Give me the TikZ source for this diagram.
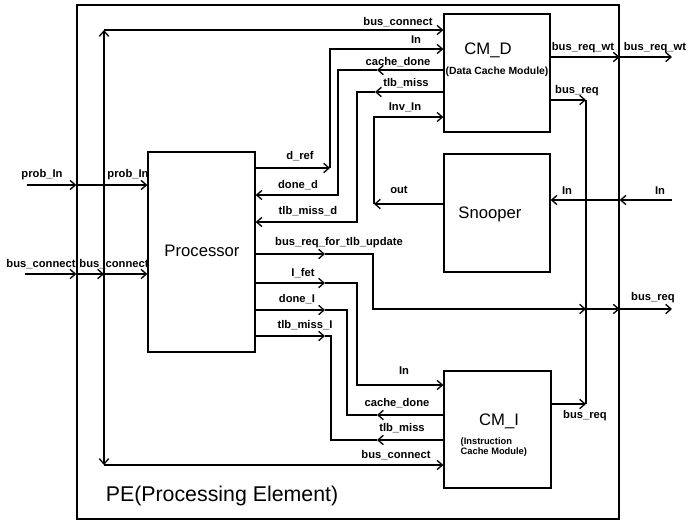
\documentclass[tikz,border=0pt]{standalone}
\usepackage{fontspec}
\setmainfont{Liberation Sans}
\usetikzlibrary{arrows.meta,fit}
\begin{document}
\begin{tikzpicture}[x=0.75pt,y=-0.75pt,line width=1pt,
  >={Straight Barb[length=4pt,width=7pt]},
  box/.style={draw,inner sep=0pt},
  lbl/.style={font=\fontsize{8.4}{9}\selectfont\bfseries,inner sep=0pt},
  ttl/.style={font=\fontsize{12.5}{14}\selectfont,inner sep=0pt},
  sub/.style={font=\fontsize{7}{7}\selectfont\bfseries,inner sep=0pt,align=left}]
\useasboundingbox (0,0) rectangle (690,521);
% boxes
\path (77,5) coordinate (pe1) (619,519) coordinate (pe2);
\node[box,fit=(pe1)(pe2)] (PE) {};
\path (148,152) coordinate (p1) (255,352) coordinate (p2);
\node[box,fit=(p1)(p2)] (P) {};
\path (444,14) coordinate (d1) (550,132) coordinate (d2);
\node[box,fit=(d1)(d2)] (D) {};
\path (444,154) coordinate (s1) (550,272) coordinate (s2);
\node[box,fit=(s1)(s2)] (S) {};
\path (444,371) coordinate (i1) (551,488) coordinate (i2);
\node[box,fit=(i1)(i2)] (I) {};
% titles
\node[ttl] (tP) at (202,251) {Processor};
\node[ttl] (tD) at (488,50) {CM\_D};
\node[sub,font=\fontsize{7.8}{8}\selectfont\bfseries] (tD2) at (497,72) {(Data Cache Module)};
\node[ttl] (tS) at (490,214) {Snooper};
\node[ttl] (tI) at (499,421) {CM\_I};
\node[sub,anchor=west] (tI2) at (460,447) {(Instruction\\Cache Module)};
\node[font=\fontsize{16}{18}\selectfont,inner sep=0pt] (tPE) at (222,496) {PE(Processing Element)};
% prob_in
\coordinate (pin) at (27,185);
\draw[->] (pin) -- (PE.west |- pin);
\draw[->] (PE.west |- pin) -- (P.west |- pin);
% bus_connect
\coordinate (bcin) at (25,274);
\coordinate (bj) at (104,274);
\coordinate (bt) at (104,30);
\coordinate (bb) at (104,465);
\draw[->] (bcin) -- (PE.west |- bcin);
\draw[->] (PE.west |- bcin) -- (bj);
\draw[->] (bj) -- (P.west |- bj);
\draw[->] (bj) -- (bt);
\draw[->] (bt) -- (D.west |- bt);
\draw[->] (bj) -- (bb);
\draw[->] (bb) -- (I.west |- bb);
% d_ref / in
\coordinate (dr) at (330,168);
\coordinate (dr2) at (444,49);
\draw[->] (P.east |- dr) -- (dr);
\draw[->] (dr) |- (D.west |- dr2);
% cache_done / done_d
\coordinate (cd1) at (377,70);
\coordinate (cd2) at (338,195);
\draw[->] (D.west |- cd1) -- (cd1);
\draw[->] (cd1) -| (cd2) -- (P.east |- cd2);
% tlb_miss / tlb_miss_d
\coordinate (tm1) at (375,92);
\coordinate (tm2) at (357,222);
\draw[->] (D.west |- tm1) -- (tm1);
\draw[->] (tm1) -| (tm2) -- (P.east |- tm2);
% out / inv_in
\coordinate (o1) at (374,204);
\coordinate (o2) at (374,117);
\draw[->] (S.west |- o1) -- (o1);
\draw[->] (o1) -- (o2) -- (D.west |- o2);
% bus_req_for_tlb_update
\coordinate (bu1) at (325,254);
\coordinate (bu2) at (373,309);
\coordinate (bjr) at (586,309);
\coordinate (brout) at (672,309);
\draw[->] (P.east |- bu1) -- (bu1);
\draw[->] (bu1) -| (bu2) -- (bjr);
\draw[->] (bjr) -- (PE.east |- bjr);
\draw[->] (PE.east |- bjr) -- (brout);
% I_fet / in
\coordinate (if1) at (325,283);
\coordinate (if2) at (357,385);
\draw[->] (P.east |- if1) -- (if1);
\draw[->] (if1) -| (if2) -- (I.west |- if2);
% cache_done / done_I
\coordinate (di1) at (377,415);
\coordinate (di2) at (347,310);
\coordinate (di3) at (325,310);
\draw[->] (I.west |- di1) -- (di1);
\draw (di1) -| (di2) -- (di3);
\draw[->] (P.east |- di3) -- (di3);
% tlb_miss / tlb_miss_I
\coordinate (ti1) at (377,440);
\coordinate (ti2) at (331,336);
\coordinate (ti3) at (325,336);
\draw[->] (I.west |- ti1) -- (ti1);
\draw (ti1) -| (ti2) -- (ti3);
\draw[->] (P.east |- ti3) -- (ti3);
% bus_req_wt
\coordinate (wt) at (672,57);
\draw[->] (D.east |- wt) -- (PE.east |- wt);
\draw[->] (PE.east |- wt) -- (wt);
% bus_req
\coordinate (rq1) at (586,100);
\coordinate (rq2) at (586,404);
\draw[->] (D.east |- rq1) -- (rq1);
\draw (rq1) -- (rq2);
\draw[->] (I.east |- rq2) -- (rq2);
% snooper in
\coordinate (sin) at (672,200);
\draw[->] (sin) -- (PE.east |- sin);
\draw[->] (PE.east |- sin) -- (S.east |- sin);
% labels
\node[lbl] at (42,175) {prob\_In};
\node[lbl] at (128,175) {prob\_In};
\node[lbl] at (41,264) {bus\_connect};
\node[lbl] at (114,264) {bus\_connect};
\node[lbl] at (398,22) {bus\_connect};
\node[lbl] at (416,40) {In};
\node[lbl] at (398,62) {cache\_done};
\node[lbl] at (406,83) {tlb\_miss};
\node[lbl] at (405,107) {Inv\_In};
\node[lbl] at (399,190) {out};
\node[lbl] at (300,156) {d\_ref};
\node[lbl] at (298,185) {done\_d};
\node[lbl] at (308,211) {tlb\_miss\_d};
\node[lbl] at (339,243) {bus\_req\_for\_tlb\_update};
\node[lbl] at (303,273) {I\_fet};
\node[lbl] at (297,299) {done\_I};
\node[lbl] at (305,325) {tlb\_miss\_I};
\node[lbl] at (404,371) {In};
\node[lbl] at (397,403) {cache\_done};
\node[lbl] at (402,428) {tlb\_miss};
\node[lbl] at (396,455) {bus\_connect};
\node[lbl] at (583,48) {bus\_req\_wt};
\node[lbl] at (655,48) {bus\_req\_wt};
\node[lbl] at (577,91) {bus\_req};
\node[lbl] at (585,416) {bus\_req};
\node[lbl] at (653,298) {bus\_req};
\node[lbl] at (567,191) {In};
\node[lbl] at (660,191) {In};
\end{tikzpicture}
\end{document}
